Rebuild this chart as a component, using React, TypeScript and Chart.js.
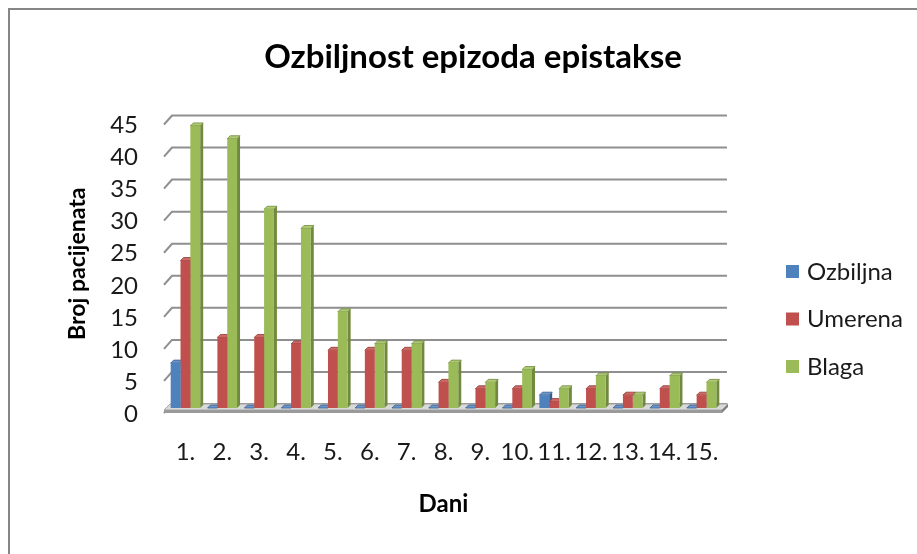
import React, { useEffect, useRef } from "react";
import { Chart, registerables } from "chart.js";

Chart.register(...registerables);

const chartTitle = "Ozbiljnost epizoda epistakse";
const xTitle = "Dani";
const yTitle = "Broj pacijenata";
const days = ["1.", "2.", "3.", "4.", "5.", "6.", "7.", "8.", "9.", "10.", "11.", "12.", "13.", "14.", "15."];
const seriesNames = ["Ozbiljna", "Umerena", "Blaga"];
const ozbiljna = [7, 0, 0, 0, 0, 0, 0, 0, 0, 0, 2, 0, 0, 0, 0];
const umerena = [23, 11, 11, 10, 9, 9, 9, 4, 3, 3, 1, 3, 2, 3, 2];
const blaga = [44, 42, 31, 28, 15, 10, 10, 7, 4, 6, 3, 5, 2, 5, 4];
const yMax = 45;
const yStep = 5;

const frontColors = ["#4F81BD", "#C0504D", "#9BBB59"];
const sideColors = ["#385D8A", "#8C3836", "#71893F"];
const topColors = ["#6A96CC", "#D06A67", "#AECB74"];

const FONT = "Lato, 'Open Sans', sans-serif";
const DEPTH = 3;

const decoPlugin = {
  id: "deco",
  beforeDraw(chart: any) {
    const { ctx, width, height } = chart;
    ctx.save();
    ctx.fillStyle = "#ffffff";
    ctx.fillRect(0, 0, width, height);
    ctx.strokeStyle = "#868686";
    ctx.lineWidth = 2;
    ctx.beginPath();
    ctx.moveTo(9, height + 5);
    ctx.lineTo(9, 9);
    ctx.lineTo(width + 5, 9);
    ctx.stroke();
    ctx.fillStyle = "#000000";
    ctx.font = `bold 33px ${FONT}`;
    ctx.textAlign = "center";
    ctx.textBaseline = "middle";
    ctx.fillText(chartTitle, 473, 57);
    ctx.restore();
  },
  beforeDatasetsDraw(chart: any) {
    const { ctx, chartArea: a } = chart;
    const y = chart.scales.y;
    ctx.save();
    // back wall gridlines with 3D diagonal
    ctx.strokeStyle = "#8f8f8f";
    ctx.lineWidth = 2;
    y.ticks.forEach((t: any) => {
      const py = y.getPixelForValue(t.value);
      ctx.beginPath();
      ctx.moveTo(a.left - 3, py + 5);
      ctx.lineTo(a.left + 5, py - 4);
      ctx.lineTo(a.right + 7, py - 4);
      ctx.stroke();
    });
    // floor
    const b = y.getPixelForValue(0);
    const fl = a.left - 3;
    const fr = a.right + 2;
    ctx.fillStyle = "#d9d9d9";
    ctx.beginPath();
    ctx.moveTo(fl, b + 2);
    ctx.lineTo(fr, b + 2);
    ctx.lineTo(fr + 6, b - 4);
    ctx.lineTo(fl + 6, b - 4);
    ctx.closePath();
    ctx.fill();
    ctx.strokeStyle = "#a6a6a6";
    ctx.lineWidth = 1;
    ctx.stroke();
    ctx.fillStyle = "#9a9a9a";
    ctx.fillRect(fl, b + 2, fr - fl, 3);
    ctx.fillStyle = "#7f7f7f";
    ctx.beginPath();
    ctx.moveTo(fr, b + 2);
    ctx.lineTo(fr + 6, b - 4);
    ctx.lineTo(fr + 6, b - 1);
    ctx.lineTo(fr, b + 5);
    ctx.closePath();
    ctx.fill();
    // side and top faces of bars
    for (let i = 0; i < chart.data.datasets.length; i++) {
      const meta = chart.getDatasetMeta(i);
      meta.data.forEach((el: any) => {
        const l = el.x - el.width / 2;
        const r = el.x + el.width / 2;
        const top = Math.min(el.y, el.base);
        const bot = el.base;
        ctx.fillStyle = sideColors[i];
        ctx.beginPath();
        ctx.moveTo(r, top);
        ctx.lineTo(r + DEPTH, top - DEPTH);
        ctx.lineTo(r + DEPTH, bot - DEPTH);
        ctx.lineTo(r, bot);
        ctx.closePath();
        ctx.fill();
        ctx.fillStyle = topColors[i];
        ctx.beginPath();
        ctx.moveTo(l, top);
        ctx.lineTo(l + DEPTH, top - DEPTH);
        ctx.lineTo(r + DEPTH, top - DEPTH);
        ctx.lineTo(r, top);
        ctx.closePath();
        ctx.fill();
        ctx.strokeStyle = sideColors[i];
        ctx.lineWidth = 0.8;
        ctx.stroke();
      });
    }
    ctx.restore();
  },
  afterDraw(chart: any) {
    const { ctx } = chart;
    ctx.save();
    ctx.font = `24px ${FONT}`;
    ctx.textAlign = "left";
    ctx.textBaseline = "middle";
    chart.data.datasets.forEach((ds: any, i: number) => {
      const yc = 272 + i * 47.5;
      ctx.fillStyle = frontColors[i];
      ctx.fillRect(786, yc - 7, 13, 13);
      ctx.fillStyle = "#1a1a1a";
      ctx.fillText(ds.label, 807, yc);
    });
    ctx.restore();
  },
};

export default function App() {
  const ref = useRef<HTMLCanvasElement | null>(null);
  useEffect(() => {
    if (!ref.current) return;
    const series = [ozbiljna, umerena, blaga];
    const chart = new Chart(ref.current, {
      type: "bar",
      data: {
        labels: days,
        datasets: series.map((d, i) => ({
          label: seriesNames[i],
          data: d,
          backgroundColor: frontColors[i],
          borderWidth: 0,
          categoryPercentage: 0.8,
          barPercentage: 1.0,
        })),
      },
      options: {
        responsive: false,
        animation: false,
        devicePixelRatio: 1,
        layout: { padding: { top: 119.5, left: 0, right: 197, bottom: 0 } },
        plugins: {
          legend: { display: false },
          title: { display: false },
          tooltip: { enabled: false },
        },
        scales: {
          x: {
            grid: { display: false, drawTicks: false },
            border: { display: false },
            ticks: {
              autoSkip: false,
              maxRotation: 0,
              minRotation: 0,
              padding: 30,
              color: "#1a1a1a",
              font: { family: FONT, size: 24 },
            },
            title: {
              display: true,
              text: xTitle,
              color: "#000",
              font: { family: FONT, size: 24, weight: "bold" },
              padding: { top: 0, bottom: 35 },
            },
            afterFit: (s: any) => {
              s.height = 146;
            },
          },
          y: {
            min: 0,
            max: yMax,
            grid: { display: false, drawTicks: false },
            border: { display: false },
            ticks: {
              stepSize: yStep,
              padding: 29,
              labelOffset: 6,
              color: "#1a1a1a",
              font: { family: FONT, size: 24 },
            },
            title: {
              display: true,
              text: yTitle,
              color: "#000",
              font: { family: FONT, size: 23, weight: "bold" },
              padding: { top: 64, bottom: 0 },
            },
            afterFit: (s: any) => {
              s.width = 167;
            },
          },
        },
      },
      plugins: [decoPlugin],
    } as any);
    return () => chart.destroy();
  }, []);
  return (
    <div style={{ position: "fixed", left: 0, top: 0, width: 917, height: 554, overflow: "hidden", background: "#fff" }}>
      <canvas ref={ref} width={917} height={554} style={{ display: "block", width: 917, height: 554 }} />
    </div>
  );
}
